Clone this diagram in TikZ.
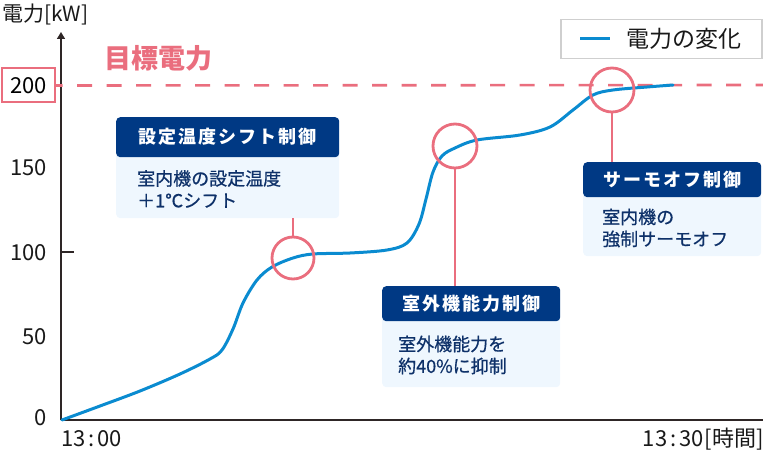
\documentclass[tikz,border=0pt]{standalone}
\usepackage{fontspec}
\setmainfont{Noto Sans CJK JP}
\newfontfamily\hdfont{Noto Sans CJK JP}[LetterSpace=11]
\newfontfamily\bdfont{Noto Sans CJK JP}[FakeBold=0.6]
\usetikzlibrary{arrows.meta}
\definecolor{pinkc}{HTML}{EA6E7E}
\definecolor{bluec}{HTML}{0A8BD0}
\definecolor{navyc}{HTML}{003984}
\definecolor{bodyc}{HTML}{EFF7FE}
\definecolor{textc}{HTML}{0E3169}
\definecolor{axisc}{HTML}{2E2626}
\definecolor{legc}{HTML}{CFCFCF}
\begin{document}
\begin{tikzpicture}[x=1pt,y=-1pt,
  bgbox/.style={fill=bodyc, rounded corners=4pt, inner sep=0pt, anchor=north west},
  hdbox/.style={fill=navyc, rounded corners=4pt, text=white, font=\hdfont\bfseries\fontsize{18}{21}\selectfont, inner sep=0pt, anchor=north west},
  bodytext/.style={text=textc, font=\bdfont\fontsize{18}{22}\selectfont, inner sep=0pt, anchor=west, align=left},
  ylab/.style={anchor=east, inner sep=0pt, text=black!90, font=\fontsize{22}{26}\selectfont},
  xlab/.style={inner sep=0pt, text=black!90, font=\fontsize{22}{26}\selectfont},
  mark circle/.style={draw=pinkc, line width=2.8pt, circle, inner sep=0pt},
  pinkline/.style={draw=pinkc, line width=2.8pt},
  axisline/.style={draw=axisc, line width=1.5pt}
]
\useasboundingbox (0,0) rectangle (763,473);

% axes
\coordinate (O) at (61,420);
\coordinate (ytop) at (61,32);
\coordinate (xend) at (763,420);
\draw[axisline, -{Triangle[width=8pt,length=7pt]}] (O) -- (ytop);
\draw[axisline] (O) -- (xend);
\coordinate (t100a) at (61,252);
\coordinate (t100b) at (74,252);
\draw[axisline] (t100a) -- (t100b);

% y labels
\node[ylab] (y150) at (47,168) {150};
\node[ylab] (y100) at (47,253) {100};
\node[ylab] (y50) at (47,337) {50};
\node[ylab] (y0) at (47,418) {0};
\node[draw=pinkc, line width=2pt, fill=white, minimum width=53pt, minimum height=34pt, inner sep=0pt,
      font=\fontsize{22}{26}\selectfont] (y200) at (28.5,85.5) {200};

% axis titles
\node[anchor=west, inner sep=0pt, font=\fontsize{21}{24}\selectfont, text=black!90] (ytitle) at (2,14) {電力[kW]};
\node[xlab, anchor=west] (x0) at (61,439) {13\kern3pt:\kern3pt00};
\node[xlab, anchor=east] (x30) at (764,439) {13\kern3pt:\kern3pt30\kern1pt[時間]};

% target line
\coordinate (tend) at (763,85);
\draw[pinkc, line width=2.6pt, dash pattern=on 15pt off 14.5pt, dash phase=8.5pt] (y200.east) -- (tend);
\node[anchor=west, inner sep=0pt, text=pinkc, font=\bfseries\fontsize{27}{30}\selectfont] (target) at (104,58) {目標電力};

% legend
\node[draw=legc, line width=1.5pt, anchor=north west, minimum width=201pt, minimum height=39pt, inner sep=0pt] (legend) at (560,19) {};
\coordinate (la) at (580,39);
\coordinate (lb) at (610,39);
\draw[bluec, line width=3pt] (la) -- (lb);
\node[anchor=west, inner sep=0pt, font=\fontsize{23}{26}\selectfont, text=black!90] (legtext) at (626,39) {電力の変化};

% curve
\draw[bluec, line width=3pt, line cap=round] plot[smooth, tension=0.55] coordinates {
 (62,420) (100,406) (140,391) (180,374) (210,359) (222,350)
 (233,329) (243,303) (257,280) (272,267) (293,258) (313,254)
 (350,253) (387,250) (407,243) (419,224) (426,199) (433,172)
 (442,156) (455,148) (477,140) (520,135) (550,127) (573,110)
 (593,95) (613,90) (647,87) (673,85)};

% circles
\node[mark circle, minimum size=42pt] (c1) at (293,258) {};
\node[mark circle, minimum size=44pt] (c2) at (455,146) {};
\node[mark circle, minimum size=44pt] (c3) at (612,90) {};

% box 1
\node[bgbox, minimum width=223pt, minimum height=101pt] (bg1) at (116,117) {};
\node[hdbox, minimum width=223pt, minimum height=40pt] (h1) at (116,117) {設定温度シフト制御};
\node[bodytext] (t1) at (137,189) {室内機の設定温度\\＋1℃シフト};

% box 2
\node[bgbox, minimum width=178pt, minimum height=101pt] (bg2) at (382,286) {};
\node[hdbox, minimum width=178pt, minimum height=35pt] (h2) at (382,286) {室外機能力制御};
\node[bodytext] (t2) at (398,355) {室外機能力を\\約40\%に抑制};

% box 3
\node[bgbox, minimum width=178pt, minimum height=94pt] (bg3) at (583,162) {};
\node[hdbox, minimum width=178pt, minimum height=35pt] (h3) at (583,162) {サーモオフ制御};
\node[bodytext] (t3) at (602,228) {室内機の\\強制サーモオフ};

% connectors
\draw[pinkline] (c1.north) -- (c1.north |- bg1.south);
\draw[pinkline] (c2.south) -- (c2.south |- h2.north);
\draw[pinkline] (c3.south) -- (c3.south |- h3.north);
\end{tikzpicture}
\end{document}
